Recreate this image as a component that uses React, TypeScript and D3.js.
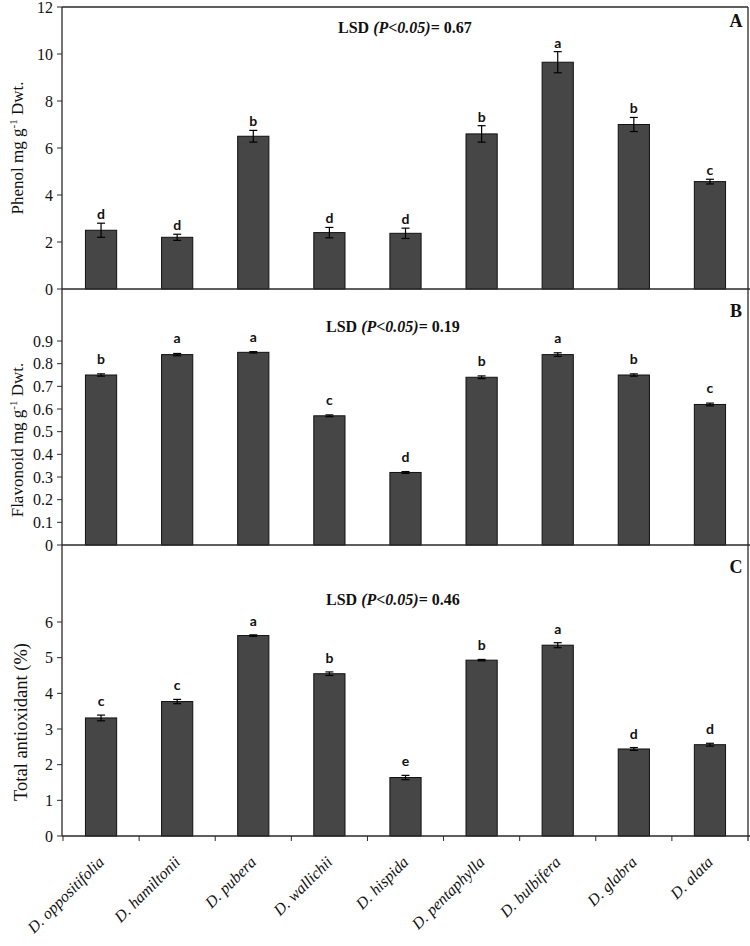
import React from 'react';
import * as d3 from 'd3';

const species = ["D. oppositifolia", "D. hamiltonii", "D. pubera", "D. wallichii", "D. hispida", "D. pentaphylla", "D. bulbifera", "D. glabra", "D. alata"];

const phenol = [2.5, 2.2, 6.5, 2.4, 2.37, 6.6, 9.65, 7.0, 4.57];
const phenolErr = [0.3, 0.13, 0.25, 0.22, 0.22, 0.35, 0.45, 0.3, 0.1];
const phenolLetters = ["d", "d", "b", "d", "d", "b", "a", "b", "c"];
const phenolTicks = [0, 2, 4, 6, 8, 10, 12];

const flavonoid = [0.75, 0.84, 0.85, 0.57, 0.32, 0.74, 0.84, 0.75, 0.62];
const flavonoidErr = [0.005, 0.005, 0.003, 0.004, 0.004, 0.006, 0.008, 0.005, 0.006];
const flavonoidLetters = ["b", "a", "a", "c", "d", "b", "a", "b", "c"];
const flavonoidTicks = [0, 0.1, 0.2, 0.3, 0.4, 0.5, 0.6, 0.7, 0.8, 0.9];

const antioxidant = [3.31, 3.77, 5.62, 4.55, 1.64, 4.93, 5.35, 2.44, 2.56];
const antioxidantErr = [0.08, 0.06, 0.02, 0.05, 0.06, 0.02, 0.07, 0.04, 0.04];
const antioxidantLetters = ["c", "c", "a", "b", "e", "b", "a", "d", "d"];
const antioxidantTicks = [0, 1, 2, 3, 4, 5, 6];

const panelTags = ["A", "B", "C"];
const lsdValues = ["0.67", "0.19", "0.46"];

const W = 750, H = 946;
const left = 62, right = 748;
const frameTop = 7;
const serif = "'Liberation Serif', 'Times New Roman', serif";
const sans = "Lato, 'Open Sans', sans-serif";
const axisColor = "#2a2a2a";

const x = d3.scaleBand<string>().domain(species).range([63, 748]).padding(0);
const barW = x.bandwidth() * 0.41;

type Panel = {
  values: number[]; errs: number[]; letters: string[]; ticks: number[];
  y: d3.ScaleLinear<number, number>; zero: number;
  tag: string; lsd: string; tagPos: [number, number]; lsdPos: [number, number];
  letterGap: number; fmt: (v: number) => string;
  ylabel: React.ReactNode; ylabelPos: [number, number]; ylabelSize: number;
};

const supLabel = (main: string, rest: string) => (
  <>
    {main}
    <tspan dy={-6} fontSize={11}>-1</tspan>
    <tspan dy={6}>{rest}</tspan>
  </>
);

const panels: Panel[] = [
  {
    values: phenol, errs: phenolErr, letters: phenolLetters, ticks: phenolTicks,
    y: d3.scaleLinear().domain([0, 12]).range([289, frameTop]), zero: 289,
    tag: panelTags[0], lsd: lsdValues[0], tagPos: [736, 27], lsdPos: [338, 33],
    letterGap: 4, fmt: d3.format("d"),
    ylabel: supLabel("Phenol mg g", " Dwt."), ylabelPos: [23, 148], ylabelSize: 17,
  },
  {
    values: flavonoid, errs: flavonoidErr, letters: flavonoidLetters, ticks: flavonoidTicks,
    y: d3.scaleLinear().domain([0, 0.9]).range([545, 341]), zero: 545,
    tag: panelTags[1], lsd: lsdValues[1], tagPos: [736, 317], lsdPos: [326, 332],
    letterGap: 10, fmt: (v) => (v === 0 ? "0" : d3.format(".1f")(v)),
    ylabel: supLabel("Flavonoid mg g", " Dwt."), ylabelPos: [23, 440], ylabelSize: 17,
  },
  {
    values: antioxidant, errs: antioxidantErr, letters: antioxidantLetters, ticks: antioxidantTicks,
    y: d3.scaleLinear().domain([0, 6]).range([836, 622]), zero: 836,
    tag: panelTags[2], lsd: lsdValues[2], tagPos: [736, 573], lsdPos: [326, 605],
    letterGap: 9, fmt: d3.format("d"),
    ylabel: <>Total antioxidant (%)</>, ylabelPos: [27, 722], ylabelSize: 18.5,
  },
];

function PanelView({ p }: { p: Panel }) {
  return (
    <g>
      {p.values.map((v, i) => {
        const cx = (x(species[i]) as number) + x.bandwidth() / 2;
        const yTop = p.y(v);
        const e1 = p.y(v + p.errs[i]);
        const e2 = p.y(v - p.errs[i]);
        return (
          <g key={i}>
            <rect x={cx - barW / 2} y={yTop} width={barW} height={p.zero - yTop}
              fill="#464646" stroke="#111" strokeWidth={1} />
            <line x1={cx} x2={cx} y1={e1} y2={e2} stroke="#000" strokeWidth={1.2} />
            <line x1={cx - 4} x2={cx + 4} y1={e1} y2={e1} stroke="#000" strokeWidth={1.2} />
            <line x1={cx - 4} x2={cx + 4} y1={e2} y2={e2} stroke="#000" strokeWidth={1.2} />
            <text x={cx} y={e1 - p.letterGap} textAnchor="middle" fontFamily={sans}
              fontWeight={700} fontSize={14} fill="#111">{p.letters[i]}</text>
          </g>
        );
      })}
      {p.ticks.map((t) => (
        <g key={t}>
          <line x1={left - 5} x2={left} y1={p.y(t)} y2={p.y(t)} stroke={axisColor} strokeWidth={1} />
          <text x={left - 9} y={p.y(t)} dy="0.35em" textAnchor="end" fontFamily={serif}
            fontSize={16} fill="#111">{p.fmt(t)}</text>
        </g>
      ))}
      <line x1={left} x2={W} y1={p.zero} y2={p.zero} stroke={axisColor} strokeWidth={1.3} />
      <text x={p.lsdPos[0]} y={p.lsdPos[1]} fontFamily={serif} fontWeight={700} fontSize={16} fill="#111">
        LSD <tspan fontStyle="italic">(P&lt;0.05)</tspan>= {p.lsd}
      </text>
      <text x={p.tagPos[0]} y={p.tagPos[1]} textAnchor="middle" fontFamily={serif} fontWeight={700}
        fontSize={18} fill="#111">{p.tag}</text>
      <g transform={`translate(${p.ylabelPos[0]},${p.ylabelPos[1]})`}>
        <text transform="rotate(-90)" textAnchor="middle"
          fontFamily={serif} fontSize={p.ylabelSize} fill="#111">{p.ylabel}</text>
      </g>
    </g>
  );
}

export default function App() {
  const bottom = panels[2].zero;
  return (
    <svg width={W} height={H} viewBox={`0 0 ${W} ${H}`}
      style={{ position: 'absolute', left: 0, top: 0, background: '#fff' }}>
      <rect x={0} y={0} width={W} height={H} fill="#fff" />
      {panels.map((p, i) => <PanelView key={i} p={p} />)}
      <line x1={left} x2={right} y1={frameTop} y2={frameTop} stroke={axisColor} strokeWidth={1.3} />
      <line x1={left} x2={left} y1={frameTop} y2={bottom} stroke={axisColor} strokeWidth={1.3} />
      <line x1={right} x2={right} y1={frameTop} y2={bottom + 5} stroke={axisColor} strokeWidth={1.3} />
      {species.map((s) => (
        <line key={s} x1={x(s) as number} x2={x(s) as number} y1={bottom} y2={bottom + 5}
          stroke={axisColor} strokeWidth={1} />
      ))}
      {species.map((s) => {
        const cx = (x(s) as number) + x.bandwidth() / 2 + 4;
        return (
          <g key={s} transform={`translate(${cx.toFixed(2)},863)`}>
            <text transform="rotate(-45)" textAnchor="end"
              fontFamily={serif} fontStyle="italic" fontSize={16} fill="#111">{s}</text>
          </g>
        );
      })}
    </svg>
  );
}
